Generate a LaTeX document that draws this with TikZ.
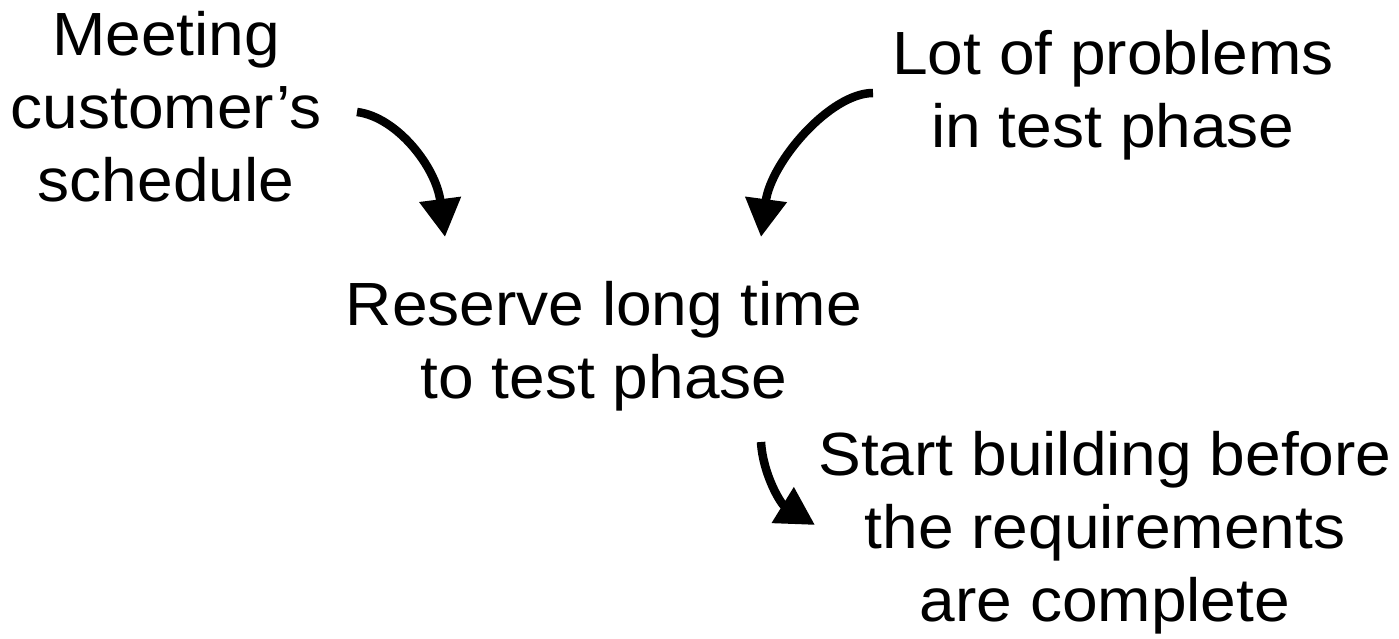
\documentclass[tikz,border=0pt]{standalone}
\usepackage{fontspec}
\setmainfont{Liberation Sans}[FakeStretch=1.05]
\usetikzlibrary{arrows.meta}
\tikzset{
  lbl/.style={anchor=base, inner sep=0pt, font=\fontsize{61}{73}\selectfont},
  bigarrow/.style={line width=8.5pt, -{Triangle[width=40pt,length=38pt]}}
}
\begin{document}
\begin{tikzpicture}[x=1pt,y=-1pt]
\useasboundingbox (0,0) rectangle (1399,639);
\node[lbl] (meet) at (166,56) {\begin{tabular}[t]{@{}c@{}}Meeting\\customer’s\\schedule\end{tabular}};
\node[lbl] (lot) at (1113,75) {\begin{tabular}[t]{@{}c@{}}Lot of problems\\in test phase\end{tabular}};
\node[lbl] (res) at (604,325) {\begin{tabular}[t]{@{}c@{}}Reserve long time\\to test phase\end{tabular}};
\node[lbl] (start) at (1105,475) {\begin{tabular}[t]{@{}c@{}}Start building before\\the requirements\\are complete\end{tabular}};
\coordinate (a1s) at (357,112);
\coordinate (a1e) at (445,237);
\coordinate (a2s) at (873,93);
\coordinate (a2e) at (761,237);
\coordinate (a3s) at (761,442);
\coordinate (a3e) at (815,525);
\draw[bigarrow] (a1s) .. controls (397,117) and (436,167) .. (a1e);
\draw[bigarrow] (a2s) .. controls (830,93) and (771,162) .. (a2e);
\draw[bigarrow] (a3s) .. controls (763,475) and (781,504) .. (a3e);
\end{tikzpicture}
\end{document}
